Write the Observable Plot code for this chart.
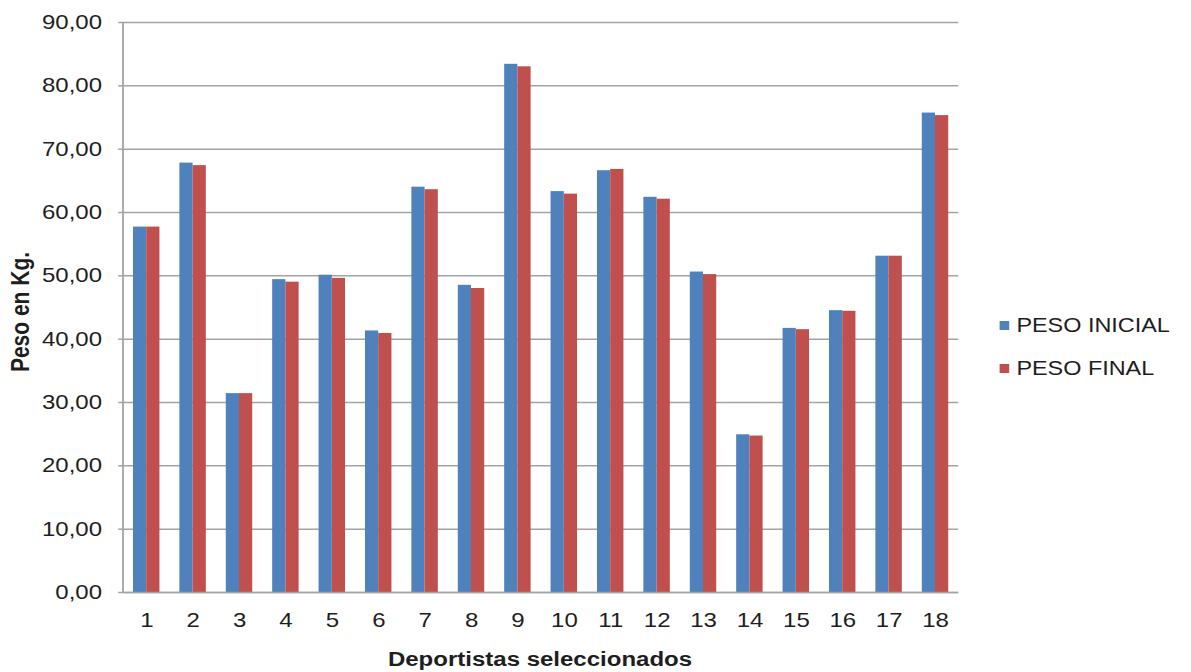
<!DOCTYPE html>
<html>
<head>
<meta charset="utf-8">
<script src="https://cdn.jsdelivr.net/npm/d3@7"></script>
<script src="https://cdn.jsdelivr.net/npm/@observablehq/plot@0.6"></script>
<style>
  html, body { margin: 0; padding: 0; background: #fff; }
  /* the chart is laid out at 993px and stretched horizontally to fill 1191px */
  #chart {
    position: relative; width: 993px; height: 672px;
    transform: scaleX(1.2); transform-origin: 0 0;
    font-family: "Liberation Sans", Arial, sans-serif; color: #1e1e1e;
  }
  #chart svg { position: absolute; left: 0; top: 0; }
  .title { position: absolute; font-weight: bold; white-space: nowrap; }
  #xtitle { left: 250px; width: 400px; top: 649px; font-size: 20px; line-height: 20px; text-align: center; }
  #ytitle { left: 16.5px; top: 312px; font-size: 21px; transform: translate(-50%, -50%) rotate(-90deg); line-height: 21px; }
  .legend { position: absolute; left: 833px; font-size: 19.5px; }
  .item { display: flex; align-items: center; height: 22px; }
  .swatch { width: 7.5px; height: 9px; margin-right: 6.5px; }
</style>
</head>
<body>
<div id="chart">
  <div class="title" id="xtitle">Deportistas seleccionados</div>
  <div class="title" id="ytitle">Peso en Kg.</div>
</div>
<script>
// Athletes (x categories)
const athletes = ["1","2","3","4","5","6","7","8","9","10","11","12","13","14","15","16","17","18"];
// Weight at start and end (kg)
const pesoInicial = [57.7, 67.8, 31.4, 49.4, 50.1, 41.3, 64.0, 48.5, 83.4, 63.3, 66.6, 62.4, 50.6, 24.9, 41.7, 44.5, 53.1, 75.7];
const pesoFinal   = [57.7, 67.4, 31.4, 49.0, 49.6, 40.9, 63.6, 48.0, 83.0, 62.9, 66.8, 62.1, 50.2, 24.7, 41.5, 44.4, 53.1, 75.3];
// Series names and y-axis ticks
const seriesNames = ["PESO INICIAL", "PESO FINAL"];
const yTicks = [0, 10, 20, 30, 40, 50, 60, 70, 80, 90];

const colors = ["#4F81BD", "#C0504D"];
const rows = athletes.map((id, i) => ({id, inicial: pesoInicial[i], final: pesoFinal[i]}));

// layout
const W = 993, H = 672;
const mL = 102.5, mR = 194.5, mT = 22, mB = 80;
const padInner = 0.43, padOuter = 0.215;
const step = (W - mL - mR) / (athletes.length - padInner + 2 * padOuter);
const half = step * (1 - padInner) / 2; // each series takes half of the band

const fmt = d => d.toFixed(2).replace(".", ",");
const axisGray = "#a3a3a3";

const plot = Plot.plot({
  width: W, height: H,
  marginLeft: mL, marginRight: mR, marginTop: mT, marginBottom: mB,
  style: {fontFamily: '"Liberation Sans", Arial, sans-serif', fontSize: "20px", color: "#1e1e1e", background: "transparent"},
  x: {type: "band", domain: athletes, paddingInner: padInner, paddingOuter: padOuter, round: false, label: null},
  y: {domain: [0, 90], label: null},
  marks: [
    Plot.gridY(yTicks, {stroke: axisGray, strokeOpacity: 1, strokeWidth: 1.5}),
    Plot.barY(rows, {x: "id", y: "inicial", fill: colors[0], insetLeft: 0, insetRight: half}),
    Plot.barY(rows, {x: "id", y: "final", fill: colors[1], insetLeft: half, insetRight: 0}),
    Plot.ruleY([0], {stroke: axisGray, strokeWidth: 1.5}),
    Plot.axisY(yTicks, {tickSize: 4, tickPadding: 14, tickFormat: fmt, stroke: axisGray, strokeWidth: 1.5, label: null, fontSize: 20}),
    Plot.axisX({tickSize: 0, tickPadding: 20, label: null, fontSize: 20})
  ]
});

// left axis line along the y range
const yr = plot.scale("y").range;
d3.select(plot).append("line")
  .attr("x1", mL).attr("x2", mL)
  .attr("y1", yr[0]).attr("y2", yr[1])
  .attr("stroke", axisGray).attr("stroke-width", 1.5);

const chart = document.getElementById("chart");
chart.prepend(plot);

// legend
const legend = d3.select(chart).append("div").attr("class", "legend").style("top", "0px");
seriesNames.forEach((name, i) => {
  const item = legend.append("div").attr("class", "item")
    .style("position", "absolute").style("top", (i === 0 ? 314 : 357) + "px").style("left", "0px");
  item.append("div").attr("class", "swatch").style("background", colors[i]);
  item.append("span").text(name).style("white-space", "nowrap");
});
</script>
</body>
</html>
